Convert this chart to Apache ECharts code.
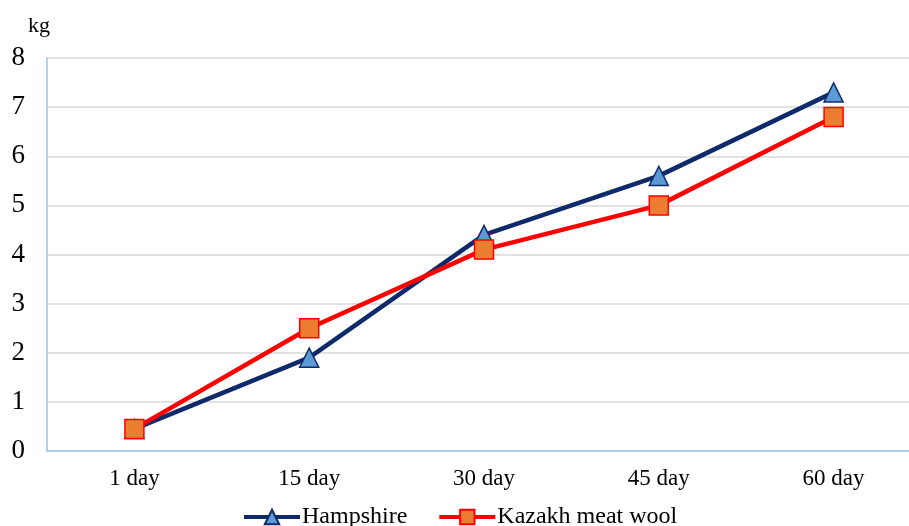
<!DOCTYPE html>
<html><head><meta charset="utf-8">
<script src="https://cdn.jsdelivr.net/npm/echarts@6/dist/echarts.min.js"></script>
<style>html,body{margin:0;padding:0;background:#fff}#c{width:909px;height:526px}</style>
</head><body><div id="c"></div>
<script>
var categories = ['1 day', '15 day', '30 day', '45 day', '60 day'];
var hampshire = [0.45, 1.9, 4.4, 5.6, 7.3];
var kazakh = [0.45, 2.5, 4.1, 5.0, 6.8];
var seriesNames = ['Hampshire', 'Kazakh meat wool'];
var yUnit = 'kg';

var font = 'Liberation Serif';
var chart = echarts.init(document.getElementById('c'));
chart.setOption({
  animation: false,
  backgroundColor: '#fff',
  grid: { left: 47, width: 874, top: 58, height: 393, containLabel: false, outerBoundsMode: 'none' },
  graphic: [{
    type: 'text', left: 28, top: 15,
    style: { text: yUnit, font: '22px "Liberation Serif"', fill: '#000' }
  }],
  legend: {
    top: 500, left: 237,
    itemWidth: 56, itemHeight: 18, itemGap: 30,
    lineStyle: { width: 4 },
    textStyle: { fontFamily: font, fontSize: 24, color: '#000', padding: [0, 0, 0, -3] },
    data: seriesNames
  },
  xAxis: {
    type: 'category', data: categories, boundaryGap: true,
    axisLine: { lineStyle: { color: '#9dc3e6', width: 1.5 } },
    axisTick: { show: false },
    axisLabel: { fontFamily: font, fontSize: 23, color: '#000', margin: 16 }
  },
  yAxis: {
    type: 'value', min: 0, max: 8, interval: 1,
    axisLine: { show: true, lineStyle: { color: '#9dc3e6', width: 1.5 } },
    axisTick: { show: false },
    splitLine: { lineStyle: { color: '#d9d9d9', width: 1.5 } },
    axisLabel: { fontFamily: font, fontSize: 27, color: '#000', margin: 22 }
  },
  series: [
    {
      name: seriesNames[0], type: 'line', data: hampshire,
      symbol: 'triangle', symbolSize: 19,
      lineStyle: { color: '#0e2a6a', width: 4.5 },
      itemStyle: { color: '#5b9bd5', borderColor: '#0e2a6a', borderWidth: 1.5 }
    },
    {
      name: seriesNames[1], type: 'line', data: kazakh,
      symbol: 'rect', symbolSize: 19,
      lineStyle: { color: '#ff0000', width: 4.5 },
      itemStyle: { color: '#ed7d31', borderColor: '#ff0000', borderWidth: 1.5 }
    }
  ]
});
</script></body></html>
